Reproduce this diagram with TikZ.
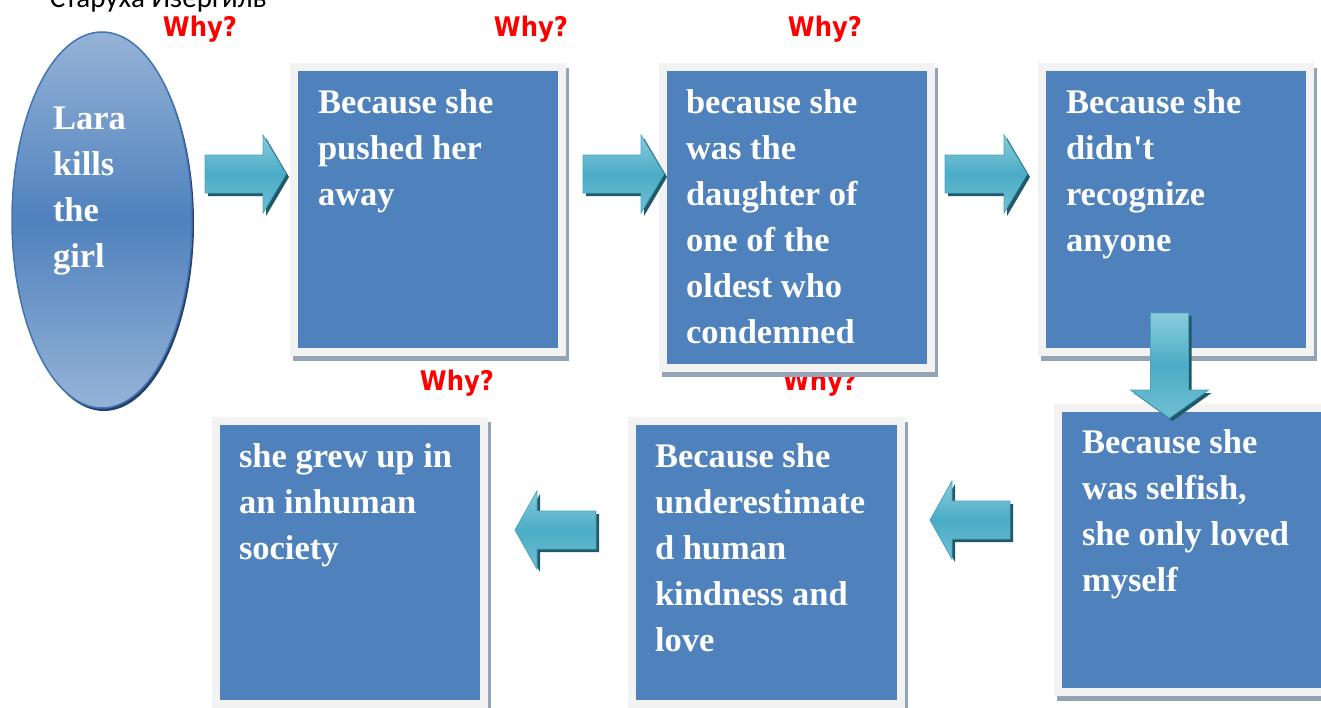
\documentclass[tikz,border=0pt]{standalone}
\usepackage{fontspec}
\setmainfont{Liberation Serif}
\newfontfamily\whyfont[FakeStretch=0.9]{DejaVu Sans}
\newfontfamily\cyrfont{Carlito}
\usepackage{tikz}
\usetikzlibrary{shapes.geometric, shadows, positioning}
\definecolor{boxblue}{HTML}{4F81BD}
\definecolor{framegray}{HTML}{F2F2F2}
\definecolor{frameshadow}{HTML}{95A3B6}
\definecolor{elllight}{HTML}{95B3D7}
\definecolor{elledge}{HTML}{4373B2}
\definecolor{ellshadow}{HTML}{24406A}
\definecolor{arrowteal}{HTML}{4BACC6}
\definecolor{arrowlight}{HTML}{8ACBDC}
\definecolor{arrowedge}{HTML}{45A6C0}
\definecolor{arrowdark}{HTML}{215968}
\definecolor{whyred}{HTML}{FF0000}

% block arrow: tail x, tail y, rotation, length, head length
\newcommand{\blockarrow}[5]{%
  \fill[arrowdark, shift={(#1+3,#2+3)}, rotate=#3] (0,-19) -- ({#4-#5},-19) -- ({#4-#5},-39) -- (#4,0) -- ({#4-#5},39) -- ({#4-#5},19) -- (0,19) -- cycle;
  \draw[arrowbody, shift={(#1,#2)}, rotate=#3] (0,-19) -- ({#4-#5},-19) -- ({#4-#5},-39) -- (#4,0) -- ({#4-#5},39) -- ({#4-#5},19) -- (0,19) -- cycle;
}

\begin{document}
\begin{tikzpicture}[x=1pt, y=-1pt, every node/.style={inner sep=0pt, outer sep=0pt},
  frame/.style={fill=framegray, drop shadow={shadow xshift=3pt, shadow yshift=-5pt, fill=frameshadow, opacity=1}},
  inner/.style={fill=boxblue, minimum width=260pt},
  boxtext/.style={anchor=north west, align=left, text=white, font=\bfseries\fontsize{34.5}{46}\selectfont},
  why/.style={anchor=base, text=whyred, font=\whyfont\bfseries\fontsize{27}{32}\selectfont},
  arrowbody/.style={draw=arrowedge, line width=0.8pt, top color=arrowlight, bottom color=arrowlight!60!arrowteal, middle color=arrowteal}]
  \useasboundingbox (0,0) rectangle (1321,707);

  % title, cut by the page edge
  \node[anchor=base, font=\cyrfont\fontsize{29}{34}\selectfont] (title) at (158,7) {Старуха Изергиль};

  % Why? labels
  \node[why] (why1) at (200,36) {Why?};
  \node[why] (why2) at (531,36) {Why?};
  \node[why] (why3) at (825,36) {Why?};
  \node[why] (why4) at (457,390) {Why?};
  \node[why] (why5) at (820,390) {Why?};

  % Lara
  \node[ellipse, minimum width=180pt, minimum height=376pt, draw=elledge, line width=1.5pt,
    top color=elllight, bottom color=elllight, middle color=boxblue,
    drop shadow={shadow xshift=2pt, shadow yshift=-3pt, fill=ellshadow, opacity=1}] (lara) at (102,220) {};
  \node[boxtext] (tlara) at ([shift={(-49,-122.7)}]lara.center) {\strut Lara\\kills\\the\\girl};

  % top row
  \node[frame, minimum width=276pt, minimum height=293pt] (f1) at (428,209.5) {};
  \node[inner, minimum height=277pt] (b1) at (f1.center) {};
  \node[boxtext] (t1) at ([shift={(20,10.5)}]b1.north west) {\strut Because she\\pushed her\\away};

  \node[frame, minimum width=276pt, minimum height=309pt] (f2) at (797,217.5) {};
  \node[inner, minimum height=293pt] (b2) at (f2.center) {};
  \node[boxtext] (t2) at ([shift={(19,10.5)}]b2.north west) {\strut because she\\was the\\daughter of\\one of the\\oldest who\\condemned};

  \node[frame, minimum width=276pt, minimum height=293pt] (f3) at (1176,209.5) {};
  \node[inner, minimum height=277pt] (b3) at (f3.center) {};
  \node[boxtext] (t3) at ([shift={(20,10.5)}]b3.north west) {\strut Because she\\didn\textquotesingle t\\recognize\\anyone};

  % bottom row
  \node[frame, minimum width=276pt, minimum height=292pt] (f4) at (1192,550) {};
  \node[inner, minimum height=276pt] (b4) at (f4.center) {};
  \node[boxtext] (t4) at ([shift={(20,9.5)}]b4.north west) {\strut Because she\\was selfish,\\she only loved\\myself};

  \node[frame, minimum width=277pt, minimum height=291pt] (f5) at (766.5,562.5) {};
  \node[inner, minimum width=261pt, minimum height=275pt] (b5) at (f5.center) {};
  \node[boxtext] (t5) at ([shift={(19,10.5)}]b5.north west) {\strut Because she\\underestimate\\d human\\kindness and\\love};

  \node[frame, minimum width=276pt, minimum height=291pt] (f6) at (350,562.5) {};
  \node[inner, minimum height=275pt] (b6) at (f6.center) {};
  \node[boxtext] (t6) at ([shift={(19,10.5)}]b6.north west) {\strut she grew up in\\an inhuman\\society};

  % block arrows
  \blockarrow{205}{174}{0}{81}{23}
  \blockarrow{583}{174}{0}{81}{23}
  \blockarrow{945}{174}{0}{82}{23}
  \blockarrow{1169.5}{313}{-90}{105}{28}
  \blockarrow{1010}{520}{180}{80}{22}
  \blockarrow{596}{530}{180}{81}{22}
\end{tikzpicture}
\end{document}
